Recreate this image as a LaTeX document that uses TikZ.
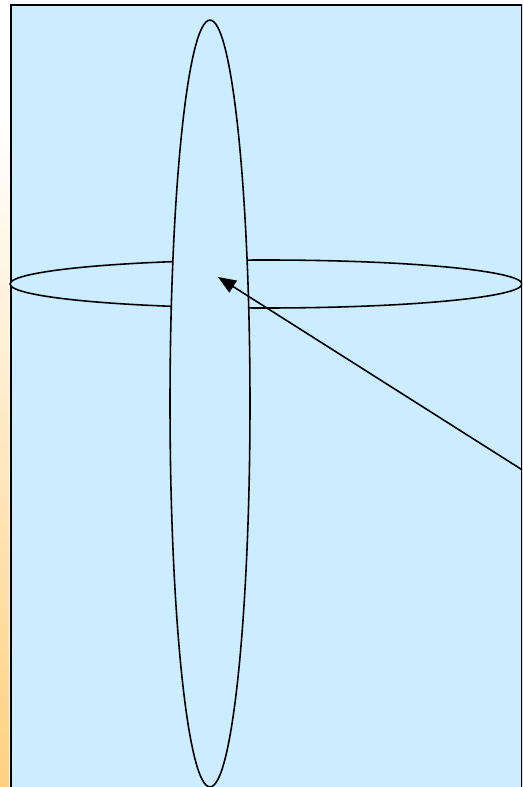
\documentclass[tikz,border=0pt]{standalone}
\usetikzlibrary{arrows.meta, shapes.geometric}

\definecolor{skyfill}{HTML}{CCECFF}
\definecolor{peach}{HTML}{FFD080}

\begin{document}
\begin{tikzpicture}[
    x=0.02cm, y=-0.02cm,
    ring/.style={draw, ellipse, line width=0.9pt, inner sep=0pt, fill=skyfill},
    pointer/.style={-{Triangle[length=3.6mm, width=2.8mm]}, line width=0.9pt},
]
    \useasboundingbox (0,0) rectangle (522,787);
    \begin{scope}
    \clip (0,0) rectangle (522,787);

    % --- side strip and panel ---
    \shade[top color=white, bottom color=peach] (0,120) rectangle (9,787);
    \node[draw, line width=1.1pt, fill=skyfill, inner sep=0pt, anchor=north west,
          minimum width=10.22cm, minimum height=16cm] (panel) at (10,4) {};

    % --- the two ellipses ---
    \node[ring, minimum width=10.24cm, minimum height=0.96cm] (flat) at (266,284) {};
    \node[ring, minimum width=1.6cm, minimum height=15.34cm] (tall) at (210,403.5) {};

    % --- pointer ---
    \coordinate (tail) at (524,471);
    \coordinate (tip) at (218,277);
    \draw[pointer] (tail) -- (tip);
    \end{scope}
\end{tikzpicture}
\end{document}
